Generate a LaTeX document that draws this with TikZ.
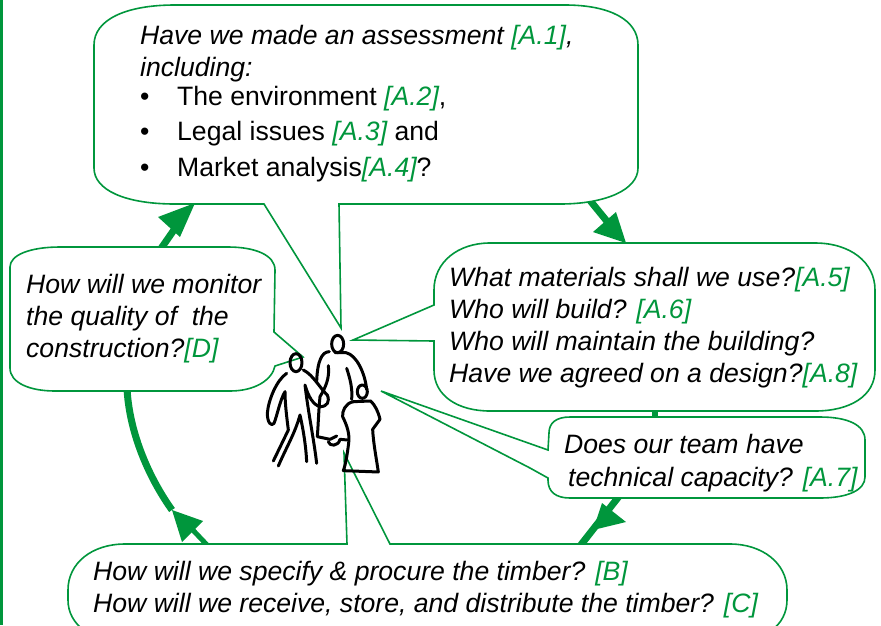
\documentclass[tikz,border=0pt]{standalone}
\usepackage{fontspec}
\setmainfont{Liberation Sans}
\definecolor{grn}{HTML}{00963C}
\newcommand{\g}[1]{\textcolor{grn}{#1}}
\tikzset{
  callout/.style={draw=grn,fill=white,line width=1.6pt,line join=miter},
  flow/.style={draw=grn,line width=7pt},
  headtip/.style={fill=grn,draw=none},
  qtext/.style={anchor=north west,inner sep=0pt,align=left,font=\fontsize{26.6}{32}\selectfont\itshape},
  btext/.style={qtext,font=\fontsize{26.6}{32}\selectfont},
  person/.style={draw=black,line width=3pt,line cap=round,line join=round}
}
\begin{document}
\begin{tikzpicture}[x=1pt,y=-1pt]
\useasboundingbox (0,0) rectangle (881,625);
\clip (0,0) rectangle (881,625);
\fill[white] (0,0) rectangle (881,625);
\fill[grn] (0,0) rectangle (3,625);
% connector end points
\coordinate (mA) at (160,250);
\coordinate (aTip) at (195,203);
\coordinate (aS) at (588,198);
\coordinate (bTip) at (626,243);
\coordinate (cS) at (655,408);
\coordinate (cE) at (655,420);
\coordinate (dS) at (620,495);
\coordinate (dE) at (580,546);
\coordinate (eS) at (208,546);
\coordinate (eM) at (190,527);
\coordinate (eTip) at (172,510);
\coordinate (fS) at (127,388);
% arrows
\draw[flow] (mA) -- (176,227);
\fill[headtip] (aTip) -- (158,217) -- (180,237) -- cycle;
\draw[flow] (aS) -- (610,225);
\fill[headtip] (bTip) -- (616,212) -- (593,232) -- cycle;
\draw[flow,line width=6pt] (cS) -- (cE);
\draw[flow] (dS) -- (dE);
\fill[headtip] (593,530) -- (602,503) -- (626,522) -- cycle;
\draw[flow,line width=5pt] (eS) -- (eM);
\fill[headtip] (eTip) -- (203,521) -- (182,542) -- cycle;
\draw[flow] (fS) .. controls (129,430) and (147,475) .. (eTip);
% callouts
\path[callout] (94,45) .. controls (94,20) and (125,5) .. (175,5) -- (565,5)
  .. controls (610,5) and (638,20) .. (638,45) -- (638,168)
  .. controls (638,190) and (605,204) .. (560,204) -- (339,204) -- (341,328) -- (264,204) -- (175,204)
  .. controls (125,204) and (94,190) .. (94,168) -- cycle;
\path[callout] (10,267) .. controls (10,255) and (30,247) .. (60,247) -- (228,247)
  .. controls (255,247) and (275,255) .. (275,270) -- (274,332) -- (303,357) -- (275,366)
  .. controls (272,380) and (255,391) .. (230,391) -- (55,391)
  .. controls (30,391) and (10,383) .. (10,368) -- cycle;
\path[callout] (434,290) .. controls (434,262) and (458,243) .. (490,243) -- (815,243)
  .. controls (850,243) and (875,262) .. (875,290) -- (875,370)
  .. controls (875,396) and (850,411) .. (815,411) -- (490,411)
  .. controls (458,411) and (434,396) .. (434,370) -- (434,341) -- (353,340) -- (434,305) -- cycle;
\path[callout] (549,433) .. controls (549,423) and (556,417) .. (570,417) -- (820,417)
  .. controls (848,417) and (865,425) .. (865,440) -- (865,477)
  .. controls (865,490) and (848,498) .. (820,498) -- (570,498)
  .. controls (556,498) and (548,492) .. (548,480) -- (548,478) -- (530,468) -- (381,391) -- (548,450) -- cycle;
\path[callout] (68,590) .. controls (68,563) and (92,544) .. (125,544) -- (347,544) -- (344,453) -- (390,544) -- (730,544)
  .. controls (762,544) and (787,563) .. (787,590) -- (787,600)
  .. controls (787,625) and (765,642) .. (730,642) -- (125,642)
  .. controls (92,642) and (68,625) .. (68,600) -- cycle;
% texts
\node[qtext] (t1) at (140,24.7) {Have we made an assessment \g{[A.1]},\\including:};
\node[btext] (b1) at (140,85.7) {\makebox[37pt][l]{•}The environment \g{\itshape[A.2]},};
\node[btext] (b2) at (140,120.7) {\makebox[37pt][l]{•}Legal issues \g{\itshape[A.3]} and};
\node[btext] (b3) at (140,156.7) {\makebox[37pt][l]{•}Market analysis\g{\itshape[A.4]}?};
\node[qtext] (t2) at (26,273.7) {How will we monitor\\the quality of~ the\\construction?\g{[D]}};
\node[qtext] (t3) at (449,266.7) {What materials shall we use?\g{[A.5]}\\Who will build? \g{[A.6]}\\Who will maintain the building?\\Have we agreed on a design?\g{[A.8]}};
\node[qtext,font=\fontsize{26.6}{33}\selectfont\itshape] (t4) at (564,433.7) {Does our team have\\\hspace*{4pt}technical capacity? \g{[A.7]}};
\node[qtext] (t5) at (93,560.7) {How will we specify \& procure the timber? \g{[B]}\\How will we receive, store, and distribute the timber? \g{[C]}};
% people
\begin{scope}[shift={(240,300)},x=0.3333pt,y=-0.3333pt]
\draw[person] (168,188) ellipse [x radius=18,y radius=27];
\draw[person] (293,132) ellipse [x radius=18,y radius=26];
\draw[person] (367,275) ellipse [x radius=15,y radius=20];
\draw[person] (140,220) .. controls (110,240) and (85,300) .. (82,340) .. controls (82,370) and (95,380) .. (102,370) .. controls (112,345) and (120,300) .. (135,275) .. controls (135,310) and (140,350) .. (145,390) -- (100,483);
\draw[person] (115,498) .. controls (140,440) and (165,400) .. (180,345) .. controls (190,390) and (198,440) .. (200,485);
\draw[person] (190,210) .. controls (220,225) and (240,265) .. (262,285) .. controls (270,305) and (262,320) .. (240,320) .. controls (220,315) and (205,290) .. (195,255) .. controls (205,340) and (222,420) .. (230,490);
\draw[person] (268,155) .. controls (245,155) and (232,185) .. (230,245);
\draw[person] (285,158) -- (318,158) .. controls (350,165) and (375,220) .. (380,268);
\draw[person] (265,197) .. controls (270,235) and (255,265) .. (240,290) .. controls (236,330) and (235,370) .. (232,410) -- (270,418) -- (290,408);
\draw[person] (265,425) .. controls (268,440) and (295,440) .. (300,418) -- (322,420);
\draw[person] (320,205) .. controls (330,235) and (338,265) .. (335,298);
\draw[person] (340,305) -- (392,303) .. controls (405,315) and (415,335) .. (420,358) -- (398,388) .. controls (400,430) and (410,480) .. (415,516) -- (310,512);
\draw[person] (340,305) .. controls (315,310) and (306,335) .. (308,350) .. controls (320,375) and (330,400) .. (326,430) .. controls (322,460) and (318,490) .. (310,512);
\end{scope}
\end{tikzpicture}
\end{document}
